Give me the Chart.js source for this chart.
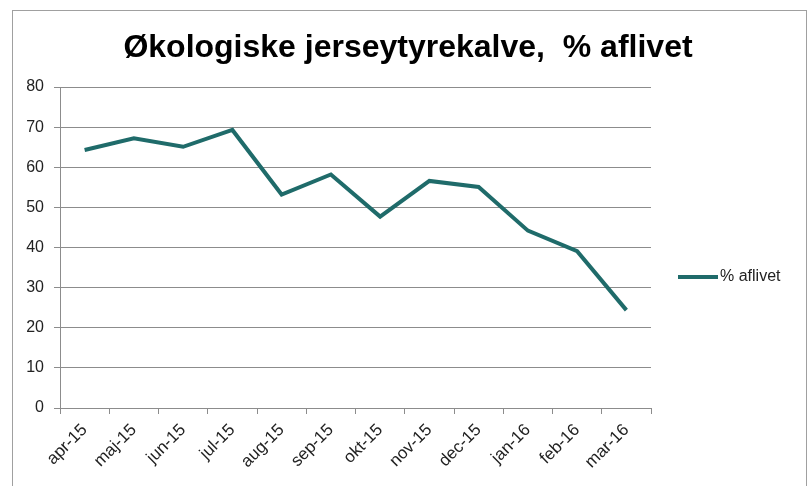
<!DOCTYPE html>
<html lang="da">
<head>
    <meta charset="UTF-8">
    <title>Økologiske jerseytyrekalve, % aflivet</title>
    <script src="https://cdn.jsdelivr.net/npm/chart.js"></script>
    <style>
        body {
            margin: 0;
            padding: 0;
            background-color: #fff;
        }
        .chart-box {
            width: 809px;
            height: 486px;
        }
    </style>
</head>
<body>
    <div class="chart-box">
        <canvas id="lineChart" width="809" height="486"></canvas>
    </div>

    <script>
        const months = ['apr-15', 'maj-15', 'jun-15', 'jul-15', 'aug-15', 'sep-15',
                        'okt-15', 'nov-15', 'dec-15', 'jan-16', 'feb-16', 'mar-16'];
        const aflivet = [64.3, 67.2, 65.1, 69.3, 53.2, 58.2, 47.7, 56.6, 55.1, 44.2, 39.1, 24.4];
        const yTicks = [0, 10, 20, 30, 40, 50, 60, 70, 80];
        const titleText = 'Økologiske jerseytyrekalve,  % aflivet';
        const seriesName = '% aflivet';
        const lineColor = '#1f6b6a';

        // frame, title and legend drawn on the canvas like the Excel original
        const decorations = {
            id: 'decorations',
            beforeDraw(chart) {
                const ctx = chart.ctx;
                ctx.save();
                ctx.fillStyle = '#fff';
                ctx.fillRect(0, 0, chart.width, chart.height);
                ctx.strokeStyle = '#a0a0a0';
                ctx.lineWidth = 1;
                ctx.strokeRect(12.5, 10.5, 794, 500);
                ctx.restore();
            },
            afterDraw(chart) {
                const ctx = chart.ctx;
                ctx.save();
                ctx.fillStyle = '#000';
                ctx.font = 'bold 32px "Liberation Sans", Arial, sans-serif';
                ctx.textAlign = 'center';
                ctx.textBaseline = 'alphabetic';
                ctx.fillText(titleText, 408, 57);

                ctx.strokeStyle = lineColor;
                ctx.lineWidth = 4;
                ctx.beginPath();
                ctx.moveTo(678, 277);
                ctx.lineTo(718, 277);
                ctx.stroke();
                ctx.fillStyle = '#222';
                ctx.font = '16px "Liberation Sans", Arial, sans-serif';
                ctx.textAlign = 'left';
                ctx.textBaseline = 'middle';
                ctx.fillText(seriesName, 720, 277);
                ctx.restore();
            }
        };

        const ctx = document.getElementById('lineChart').getContext('2d');
        const lineChart = new Chart(ctx, {
            type: 'line',
            data: {
                labels: months,
                datasets: [{
                    label: seriesName,
                    data: aflivet,
                    borderColor: lineColor,
                    borderWidth: 4,
                    pointRadius: 0,
                    tension: 0,
                    fill: false
                }]
            },
            options: {
                responsive: false,
                animation: false,
                layout: {
                    padding: { left: 0, top: 87, right: 158, bottom: 0 }
                },
                plugins: {
                    legend: { display: false },
                    title: { display: false },
                    tooltip: { enabled: false }
                },
                scales: {
                    x: {
                        offset: true,
                        grid: {
                            offset: true,
                            drawOnChartArea: false,
                            color: '#8c8c8c',
                            tickLength: 6
                        },
                        border: { color: '#8c8c8c' },
                        ticks: {
                            color: '#222',
                            font: { family: '"Liberation Sans", Arial, sans-serif', size: 17 },
                            minRotation: 45,
                            maxRotation: 45,
                            autoSkip: false,
                            padding: 6
                        },
                        afterFit(scale) { scale.height = 78; }
                    },
                    y: {
                        min: 0,
                        max: 80,
                        afterBuildTicks(scale) {
                            scale.ticks = yTicks.map(v => ({ value: v }));
                        },
                        grid: {
                            color: '#8c8c8c',
                            tickLength: 6
                        },
                        border: { color: '#8c8c8c' },
                        ticks: {
                            color: '#222',
                            font: { family: '"Liberation Sans", Arial, sans-serif', size: 16 },
                            padding: 10
                        },
                        afterFit(scale) { scale.width = 60; }
                    }
                }
            },
            plugins: [decorations]
        });
    </script>
</body>
</html>
